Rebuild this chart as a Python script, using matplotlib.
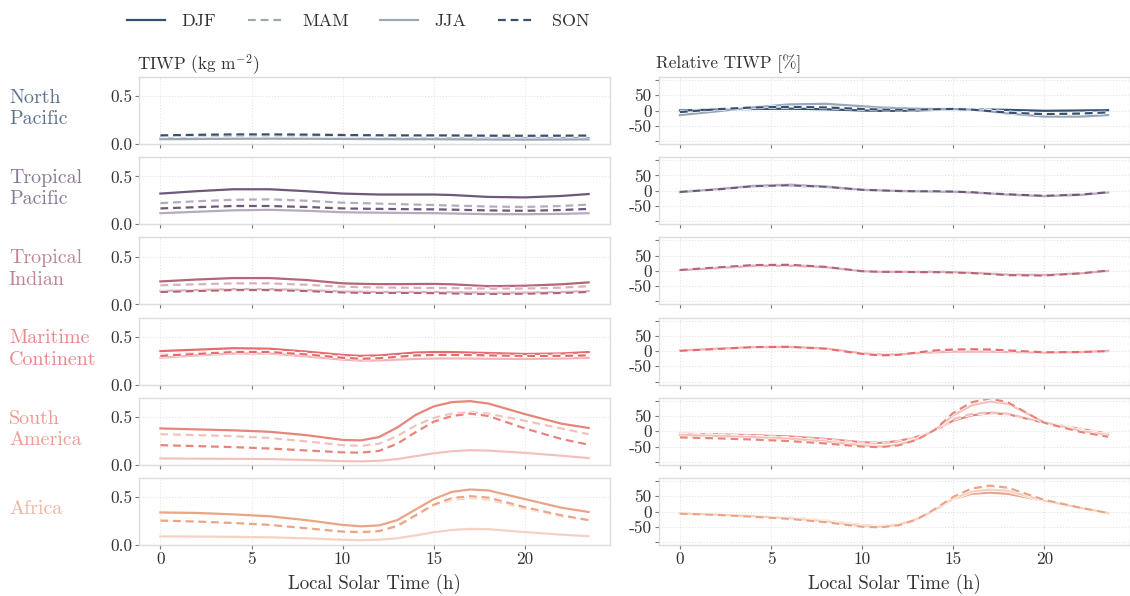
import matplotlib
matplotlib.use("Agg")
import matplotlib.pyplot as plt
import matplotlib.patheffects as pe

plt.rcParams["font.family"] = ["cmr10", "DejaVu Serif"]
plt.rcParams["mathtext.fontset"] = "cm"
plt.rcParams["axes.unicode_minus"] = False

hours = [0, 2, 4, 6, 8, 10, 11, 12, 13, 14, 15, 16, 17, 18, 20, 22, 23.5]

regions = ["North\nPacific", "Tropical\nPacific", "Tropical\nIndian",
           "Maritime\nContinent", "South\nAmerica", "Africa"]
region_colors = ["#355070", "#6d597a", "#b56576", "#e56b6f", "#e8857a", "#eaa486"]
seasons = ["DJF", "MAM", "JJA", "SON"]

# absolute TIWP (kg m-2)
np_abs = {
    "DJF": [0.06, 0.06, 0.06, 0.06, 0.06, 0.058, 0.057, 0.057, 0.057, 0.058, 0.058, 0.058, 0.057, 0.056, 0.056, 0.058, 0.06],
    "MAM": [0.08, 0.085, 0.088, 0.09, 0.088, 0.085, 0.083, 0.082, 0.082, 0.083, 0.083, 0.082, 0.08, 0.078, 0.076, 0.078, 0.08],
    "JJA": [0.05, 0.052, 0.055, 0.056, 0.055, 0.053, 0.052, 0.051, 0.05, 0.05, 0.05, 0.049, 0.048, 0.047, 0.046, 0.047, 0.048],
    "SON": [0.09, 0.096, 0.10, 0.10, 0.098, 0.094, 0.092, 0.091, 0.09, 0.09, 0.09, 0.089, 0.088, 0.087, 0.086, 0.087, 0.088],
}
tp_abs = {
    "DJF": [0.32, 0.345, 0.365, 0.365, 0.345, 0.32, 0.315, 0.31, 0.31, 0.31, 0.31, 0.305, 0.295, 0.285, 0.28, 0.295, 0.315],
    "MAM": [0.22, 0.24, 0.255, 0.26, 0.245, 0.225, 0.22, 0.215, 0.21, 0.205, 0.20, 0.195, 0.19, 0.185, 0.18, 0.19, 0.205],
    "JJA": [0.115, 0.13, 0.145, 0.15, 0.14, 0.125, 0.122, 0.12, 0.118, 0.116, 0.115, 0.112, 0.108, 0.105, 0.104, 0.108, 0.115],
    "SON": [0.165, 0.178, 0.19, 0.19, 0.18, 0.165, 0.162, 0.16, 0.158, 0.156, 0.155, 0.152, 0.148, 0.144, 0.14, 0.148, 0.16],
}
ti_abs = {
    "DJF": [0.24, 0.26, 0.275, 0.275, 0.255, 0.22, 0.215, 0.212, 0.212, 0.213, 0.214, 0.21, 0.20, 0.19, 0.195, 0.21, 0.23],
    "MAM": [0.20, 0.21, 0.22, 0.22, 0.205, 0.185, 0.18, 0.177, 0.175, 0.173, 0.172, 0.17, 0.167, 0.165, 0.166, 0.175, 0.19],
    "JJA": [0.14, 0.15, 0.16, 0.16, 0.15, 0.135, 0.132, 0.13, 0.13, 0.13, 0.13, 0.128, 0.125, 0.122, 0.123, 0.13, 0.14],
    "SON": [0.13, 0.14, 0.15, 0.15, 0.14, 0.125, 0.122, 0.12, 0.12, 0.12, 0.118, 0.115, 0.112, 0.11, 0.112, 0.12, 0.13],
}
mc_abs = {
    "DJF": [0.35, 0.365, 0.38, 0.375, 0.345, 0.31, 0.30, 0.305, 0.32, 0.335, 0.34, 0.34, 0.335, 0.33, 0.32, 0.325, 0.34],
    "MAM": [0.31, 0.33, 0.345, 0.345, 0.32, 0.285, 0.275, 0.28, 0.295, 0.305, 0.31, 0.31, 0.305, 0.30, 0.30, 0.305, 0.31],
    "JJA": [0.28, 0.305, 0.325, 0.325, 0.295, 0.26, 0.25, 0.252, 0.26, 0.268, 0.272, 0.273, 0.272, 0.27, 0.268, 0.272, 0.28],
    "SON": [0.30, 0.32, 0.34, 0.34, 0.315, 0.28, 0.27, 0.275, 0.29, 0.305, 0.31, 0.31, 0.31, 0.305, 0.30, 0.30, 0.305],
}
sa_abs = {
    "DJF": [0.38, 0.37, 0.36, 0.345, 0.31, 0.26, 0.255, 0.29, 0.39, 0.52, 0.61, 0.655, 0.665, 0.64, 0.53, 0.43, 0.385],
    "MAM": [0.32, 0.31, 0.30, 0.28, 0.245, 0.205, 0.198, 0.22, 0.3, 0.41, 0.49, 0.535, 0.55, 0.535, 0.46, 0.38, 0.32],
    "JJA": [0.066, 0.064, 0.062, 0.06, 0.05, 0.038, 0.036, 0.042, 0.06, 0.09, 0.12, 0.142, 0.152, 0.148, 0.125, 0.095, 0.07],
    "SON": [0.205, 0.195, 0.185, 0.17, 0.15, 0.13, 0.127, 0.145, 0.22, 0.34, 0.45, 0.51, 0.535, 0.51, 0.38, 0.27, 0.21],
}
af_abs = {
    "DJF": [0.34, 0.335, 0.32, 0.30, 0.26, 0.21, 0.195, 0.205, 0.26, 0.37, 0.48, 0.555, 0.58, 0.57, 0.48, 0.39, 0.345],
    "MAM": [0.255, 0.245, 0.23, 0.21, 0.175, 0.14, 0.13, 0.14, 0.19, 0.3, 0.41, 0.47, 0.49, 0.475, 0.38, 0.30, 0.26],
    "JJA": [0.09, 0.088, 0.085, 0.08, 0.07, 0.055, 0.05, 0.055, 0.07, 0.1, 0.133, 0.157, 0.168, 0.165, 0.135, 0.108, 0.092],
    "SON": [0.255, 0.245, 0.23, 0.21, 0.175, 0.14, 0.135, 0.145, 0.2, 0.31, 0.42, 0.49, 0.51, 0.495, 0.395, 0.31, 0.26],
}

# relative TIWP (%)
np_rel = {
    "DJF": [0, 3, 5, 6, 4, 0, -1, -1, 0, 2, 4, 4, 3, 2, -1, 0, 1],
    "MAM": [-8, 3, 12, 15, 14, 8, 5, 4, 4, 5, 6, 4, 0, -6, -13, -12, -8],
    "JJA": [-15, -3, 10, 20, 22, 14, 10, 8, 6, 5, 5, 3, -3, -10, -20, -20, -15],
    "SON": [-5, 4, 10, 12, 10, 5, 3, 3, 3, 4, 5, 3, -2, -7, -12, -10, -6],
}
tp_rel = {
    "DJF": [-3, 5, 14, 17, 12, 2, 0, -1, -1, -2, -2, -5, -8, -12, -17, -12, -5],
    "MAM": [-5, 4, 14, 19, 14, 4, 1, -1, -2, -3, -3, -5, -9, -12, -18, -14, -6],
    "JJA": [-5, 5, 16, 20, 14, 3, 1, -1, -2, -3, -4, -6, -9, -13, -18, -14, -6],
    "SON": [-4, 4, 15, 18, 13, 3, 1, -1, -2, -2, -3, -5, -9, -12, -17, -13, -5],
}
ti_rel = {
    "DJF": [2, 10, 18, 19, 13, -1, -3, -3, -3, -3, -3, -5, -8, -12, -14, -8, 0],
    "MAM": [3, 11, 19, 20, 14, 0, -2, -3, -3, -3, -4, -6, -9, -13, -15, -9, 0],
    "JJA": [2, 9, 16, 17, 12, -1, -3, -3, -3, -3, -4, -6, -9, -12, -13, -8, 0],
    "SON": [3, 11, 19, 20, 13, -1, -3, -3, -4, -4, -5, -7, -10, -14, -15, -8, 1],
}
mc_rel = {
    "DJF": [1, 7, 12, 13, 8, -8, -12, -11, -6, -2, 0, 0, -1, -3, -6, -4, 0],
    "MAM": [1, 7, 12, 13, 8, -8, -13, -12, -5, 1, 4, 5, 4, 1, -4, -3, 0],
    "JJA": [2, 8, 13, 14, 9, -7, -11, -11, -7, -4, -2, -2, -2, -3, -5, -3, 1],
    "SON": [1, 7, 13, 14, 8, -9, -14, -12, -5, 2, 5, 6, 5, 2, -4, -3, 0],
}
sa_rel = {
    "DJF": [-8, -10, -13, -17, -25, -36, -38, -32, -18, 3, 35, 52, 60, 56, 28, 8, -8],
    "MAM": [-10, -13, -17, -22, -30, -40, -42, -36, -20, 3, 40, 57, 62, 58, 28, 6, -10],
    "JJA": [-12, -15, -19, -24, -33, -46, -50, -44, -26, 4, 52, 85, 98, 90, 30, 2, -12],
    "SON": [-20, -23, -27, -32, -40, -50, -52, -46, -28, 5, 60, 95, 108, 95, 28, -2, -18],
}
af_rel = {
    "DJF": [-6, -10, -15, -20, -30, -45, -48, -42, -25, 5, 40, 58, 62, 58, 35, 12, -5],
    "MAM": [-7, -11, -17, -24, -35, -50, -52, -45, -28, 3, 42, 70, 80, 75, 38, 12, -5],
    "JJA": [-6, -10, -15, -22, -32, -48, -50, -44, -25, 5, 42, 65, 72, 68, 35, 12, -5],
    "SON": [-7, -11, -17, -24, -35, -50, -52, -45, -26, 8, 48, 75, 85, 78, 38, 12, -5],
}

abs_data = [np_abs, tp_abs, ti_abs, mc_abs, sa_abs, af_abs]
rel_data = [np_rel, tp_rel, ti_rel, mc_rel, sa_rel, af_rel]

# season styles: (linestyle, alpha)
season_style = {
    "DJF": ("-", 1.0),
    "MAM": ((0, (3.5, 2.2)), 0.5),
    "JJA": ("-", 0.5),
    "SON": ((0, (3.5, 2.2)), 1.0),
}

W, H = 1130, 596
fig = plt.figure(figsize=(W / 100, H / 100), dpi=100)

left_x, right_x, ax_w = 139, 658.5, 471
top0, row_step, ax_h = 77, 80.2, 67
spine_col = "#dcdcdc"
text_col = "#333333"


def style_axes(ax, bottom):
    for s in ax.spines.values():
        s.set_color(spine_col)
        s.set_linewidth(1.0)
    ax.grid(True, color="#e4e4e4", linestyle=":", linewidth=0.8)
    ax.set_axisbelow(True)
    ax.tick_params(colors="#777777", labelcolor=text_col, length=3, width=0.8,
                   labelsize=12.5, pad=2)
    ax.set_xlim(-1.175, 24.675)
    ax.set_xticks([0, 5, 10, 15, 20])
    if bottom:
        ax.set_xticklabels(["0", "5", "10", "15", "20"])
        ax.set_xlabel("Local Solar Time (h)", fontsize=13.6, color=text_col, labelpad=5)
    else:
        ax.set_xticklabels([])


lw = 1.6
for i, region in enumerate(regions):
    top = top0 + i * row_step
    y0 = 1 - (top + ax_h) / H
    axl = fig.add_axes([left_x / W, y0, ax_w / W, ax_h / H])
    axr = fig.add_axes([right_x / W, y0, ax_w / W, ax_h / H])
    col = region_colors[i]
    for s in seasons:
        ls, a = season_style[s]
        for ax, data in ((axl, abs_data[i]), (axr, rel_data[i])):
            ax.plot(hours, data[s], color=col, alpha=a, linestyle=ls, linewidth=lw,
                    label=s, path_effects=[pe.Stroke(linewidth=lw + 1.0, foreground="white"),
                                           pe.Normal()])
    style_axes(axl, i == len(regions) - 1)
    style_axes(axr, i == len(regions) - 1)
    axl.set_ylim(0, 0.7)
    axl.set_yticks([0.0, 0.5])
    axl.set_yticklabels(["0.0", "0.5"])
    axr.set_ylim(-110, 110)
    axr.set_yticks([-100, -50, 0, 50, 100])
    axr.set_yticklabels(["", "-50", "0", "50", ""])

    fig.text(9 / W, 1 - (top + ax_h / 2 - 2) / H, region, color=col, alpha=0.8,
             fontsize=14.4, ha="left", va="center", linespacing=1.25)

    if i == 0:
        handles, labels = axl.get_lines(), seasons

fig.text(137 / W, 1 - 70 / H, r"TIWP (kg m$^{-2}$)", fontsize=12.4, color=text_col,
         va="baseline")
fig.text(656 / W, 1 - 68 / H, "Relative TIWP [%]", fontsize=12.4, color=text_col,
         va="baseline")

fig.legend(handles, labels, loc="upper left", bbox_to_anchor=(111 / W, 1 + 3 / H),
           ncol=4, frameon=False, fontsize=13, handlelength=2.1, handletextpad=0.9,
           columnspacing=1.75, labelcolor=text_col)

fig.savefig("out.png", dpi=100, facecolor="white")
